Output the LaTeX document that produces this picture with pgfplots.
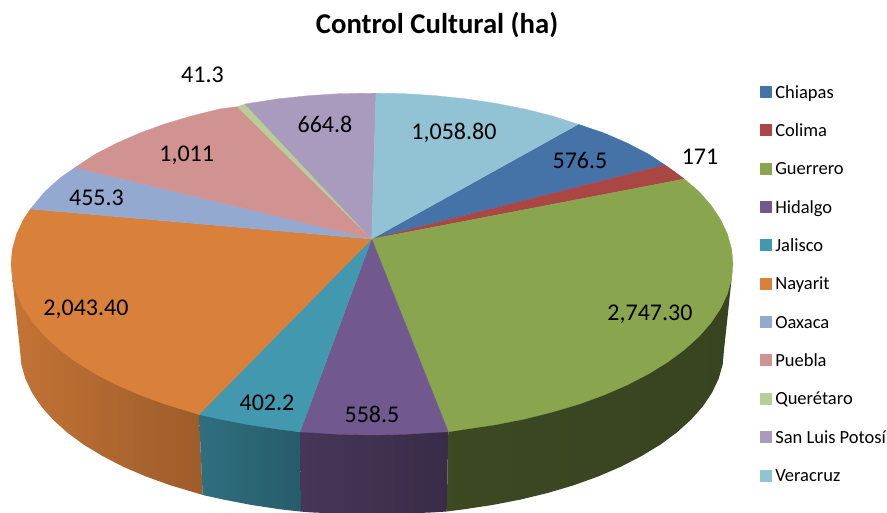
\documentclass[border=0pt]{standalone}
\usepackage{pgfplots}
\usepackage{fontspec}
\setmainfont{Carlito}
\pgfplotsset{compat=1.18}
\definecolor{cChi}{HTML}{4572A7}
\definecolor{cCol}{HTML}{AA4643}
\definecolor{cGue}{HTML}{89A54E}
\definecolor{cHid}{HTML}{71588F}
\definecolor{cJal}{HTML}{4198AF}
\definecolor{cNay}{HTML}{D9803B}
\definecolor{cOax}{HTML}{93A9CF}
\definecolor{cPue}{HTML}{D19392}
\definecolor{cQue}{HTML}{B9CD96}
\definecolor{cSLP}{HTML}{A99BBD}
\definecolor{cVer}{HTML}{92C3D4}
\pgfplotsset{wedge/.style={fill=#1,draw=#1,line width=0.3pt,line join=round,
  area legend,legend image code/.code={\fill[#1] (0pt,-3pt) rectangle (11pt,8pt);}}}
\begin{document}
\begin{tikzpicture}
\useasboundingbox (0,0) rectangle (887pt,512pt);
\begin{axis}[
  anchor=south west,at={(0,0)},
  scale only axis,width=887pt,height=512pt,
  xmin=0,xmax=887,ymin=0,ymax=512,y dir=reverse,
  axis lines=none,ticks=none,clip=true,
  legend style={at={(axis cs:760,86)},anchor=north west,draw=none,fill=none,
    font=\fontsize{18.5}{18.5}\selectfont,row sep=22.2pt,inner sep=0pt,outer sep=0pt,
    /tikz/every odd column/.append style={column sep=4pt},
    nodes={inner sep=0pt,outer sep=0pt,text height=12pt,text depth=4pt}},
  legend cell align=left,
]
% sides
\addplot[forget plot,draw=none,left color=cNay!90!black,right color=cNay!72!black] coordinates {
 (12.4,279)(20,350)(21.3,364.4)(25.3,378.6)(32,392.7)(41.2,406.4)(53,419.7)(67.2,432.5)(83.6,444.6)(102.4,456)(123.1,466.7)(145.7,476.4)(170.1,485.2)(196,492.9)(202.7,495)(199,414.5)} -- cycle;
\addplot[forget plot,draw=none,left color=cJal!73!black,right color=cJal!60!black] coordinates {
 (199,414.5)(202.7,495)(223.2,499.5)(251.6,505)(281,509.4)(301,511.6)(300,431.9)} -- cycle;
\addplot[forget plot,draw=none,left color=cHid!62!black,right color=cHid!50!black] coordinates {
 (300,431.9)(301,511.6)(311,512.4)(372,515)(433,512.4)(446.7,511.5)(448.3,431.8)} -- cycle;
\addplot[forget plot,draw=none,left color=cGue!44!black,right color=cGue!41!black] coordinates {
 (448.3,431.8)(446.7,511.5)(463,509.4)(492.4,505)(520.8,499.5)(548,492.9)(573.9,485.2)(598.3,476.4)(620.9,466.7)(641.6,456)(660.4,444.6)(676.8,432.5)(691,419.7)(702.8,406.4)(712,392.7)(718.7,378.6)(722.7,364.4)(724,350)(731.6,279)} -- cycle;
% tops
\addplot[wedge=cChi] coordinates {(371.7,239)(578.3,124.3)(604,133)(627.3,143.1)(648.5,154.1)(665,165)} -- cycle;
\addlegendentry{Chiapas}
\addplot[wedge=cCol] coordinates {(371.7,239)(665,165)(675,172)(684.3,179)} -- cycle;
\addlegendentry{Colima}
\addplot[wedge=cGue] coordinates {(371.7,239)(684.3,179)(699.2,191.7)(711.2,205.5)(720.7,219.7)(727.5,234.3)(731.6,249.1)(733,264)(731.6,278.9)(727.5,293.7)(720.7,308.3)(711.2,322.5)(699.2,336.3)(684.6,349.5)(667.7,362.1)(648.5,373.9)(627.3,384.9)(604,395)(579.1,404.1)(552.5,412)(524.6,419)(495.5,424.7)(465.4,429.2)(448.3,431.8)} -- cycle;
\addlegendentry{Guerrero}
\addplot[wedge=cHid] coordinates {(371.7,239)(448.3,431.8)(434.7,432.4)(403.5,434.4)(372,435)(340.5,434.4)(309.3,432.4)(300,431.9)} -- cycle;
\addlegendentry{Hidalgo}
\addplot[wedge=cJal] coordinates {(371.7,239)(300,431.9)(278.6,429.2)(248.5,424.7)(219.4,419)(199,414.5)} -- cycle;
\addlegendentry{Jalisco}
\addplot[wedge=cNay] coordinates {(371.7,239)(199,414.5)(164.9,404.1)(140,395)(116.7,384.9)(95.5,373.9)(76.3,362.1)(59.4,349.5)(44.8,336.3)(32.8,322.5)(23.3,308.3)(16.5,293.7)(12.4,278.9)(11,264)(12.4,249.1)(16.5,234.3)(23.3,219.7)(30.5,209)} -- cycle;
\addlegendentry{Nayarit}
\addplot[wedge=cOax] coordinates {(371.7,239)(30.5,209)(44.8,191.7)(59.4,178.5)(75,167.5)} -- cycle;
\addlegendentry{Oaxaca}
\addplot[wedge=cPue] coordinates {(371.7,239)(75,167.5)(95.5,154.1)(116.7,143.1)(140,133)(164.9,123.9)(191.5,116)(219.4,109)(237.3,106.7)} -- cycle;
\addlegendentry{Puebla}
\addplot[wedge=cQue] coordinates {(371.7,239)(237.3,106.7)(245,104)} -- cycle;
\addlegendentry{Querétaro}
\addplot[wedge=cSLP] coordinates {(371.7,239)(245,104)(278.6,98.8)(309.3,95.6)(340.5,93.6)(376,93.2)} -- cycle;
\addlegendentry{San Luis Potosí}
\addplot[wedge=cVer] coordinates {(371.7,239)(376,93.2)(403.5,93.6)(434.7,95.6)(465.4,98.8)(495.5,103.3)(524.6,109)(552.5,116)(578.3,124.3)} -- cycle;
\addlegendentry{Veracruz}
% labels
\begin{scope}[every node/.style={font=\fontsize{24}{24}\selectfont,inner sep=0pt,text=black}]
\node at (axis cs:700,157) {171};
\node at (axis cs:580,160.5) {576.5};
\node at (axis cs:454,133) {1,058.80};
\node at (axis cs:325,124.5) {664.8};
\node at (axis cs:202.5,75) {41.3};
\node at (axis cs:186.7,155) {1,011};
\node at (axis cs:96.5,198) {455.3};
\node at (axis cs:86,309) {2,043.40};
\node at (axis cs:267,403) {402.2};
\node at (axis cs:372,414) {558.5};
\node at (axis cs:650,314.5) {2,747.30};
\end{scope}
\node[font=\bfseries\fontsize{28.7}{28.7}\selectfont,inner sep=0pt] at (axis cs:437,25) {Control Cultural (ha)};
\end{axis}
\end{tikzpicture}
\end{document}
